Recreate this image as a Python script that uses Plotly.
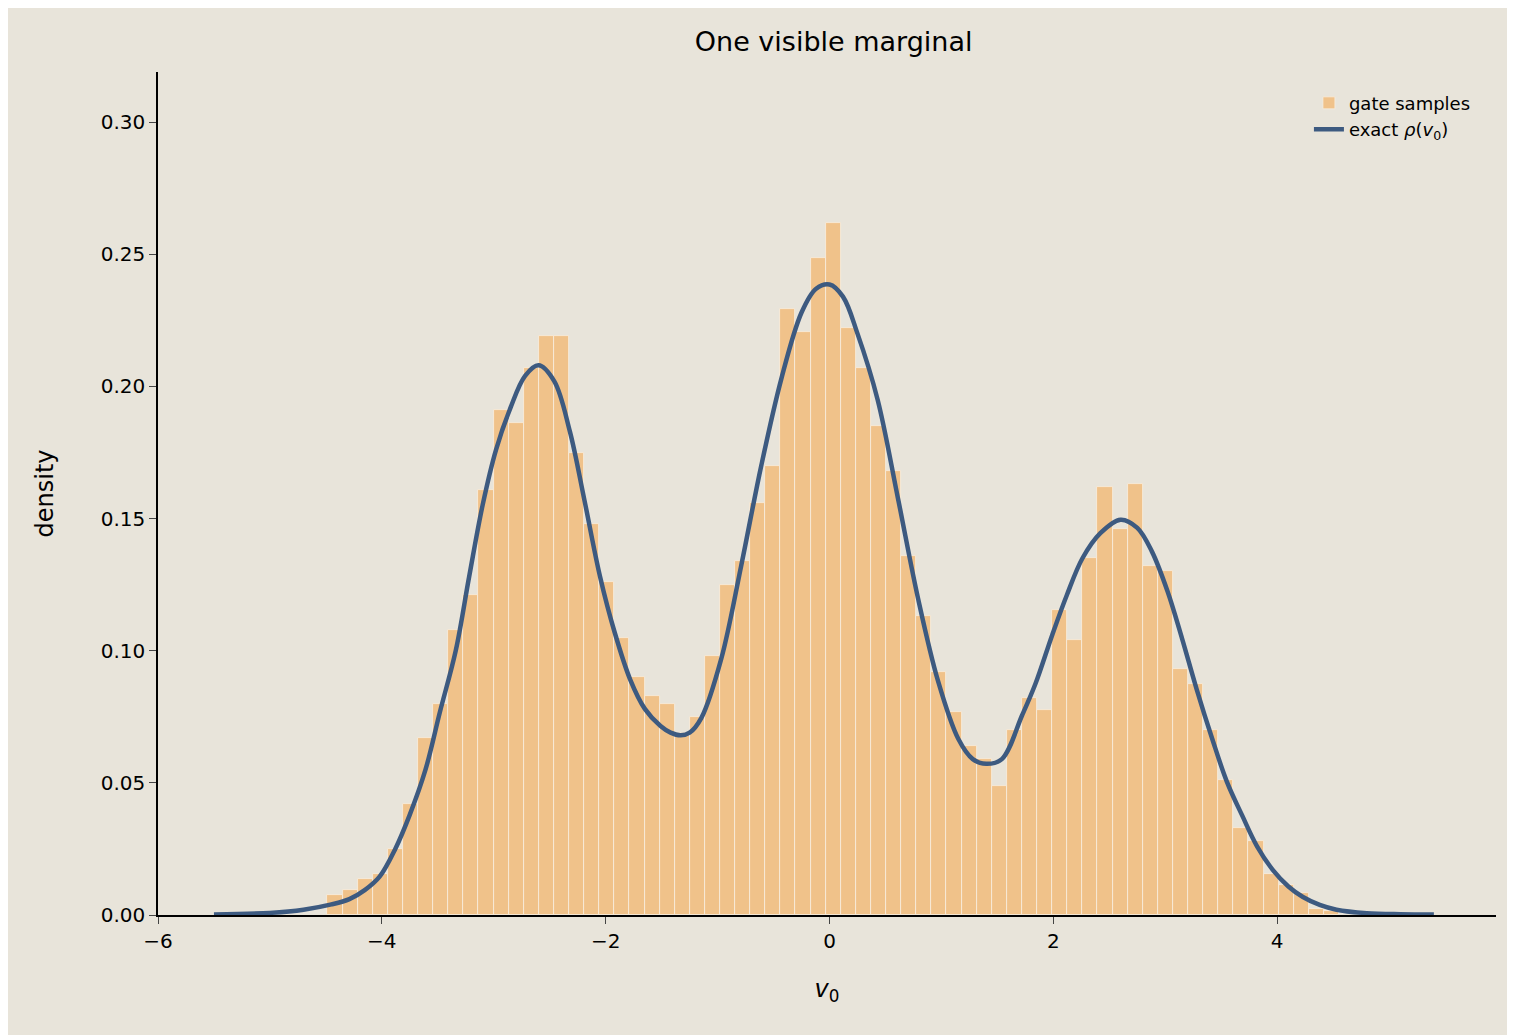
import numpy as np
import plotly.graph_objects as go

bin_start = -4.486
bin_width = 0.1349
counts = [0.0075, 0.0093, 0.0137, 0.0157, 0.025, 0.042, 0.067, 0.080, 0.108, 0.121,
          0.161, 0.191, 0.186, 0.207, 0.219, 0.219, 0.175, 0.148, 0.126, 0.105,
          0.090, 0.083, 0.080, 0.069, 0.075, 0.098, 0.125, 0.134, 0.156, 0.170,
          0.2295, 0.2205, 0.2486, 0.2617, 0.222, 0.207, 0.185, 0.168, 0.136, 0.113,
          0.092, 0.077, 0.064, 0.059, 0.049, 0.070, 0.082, 0.0775, 0.1155, 0.104,
          0.135, 0.162, 0.146, 0.163, 0.132, 0.130, 0.093, 0.0875, 0.070, 0.051,
          0.033, 0.028, 0.0156, 0.0114, 0.0082, 0.0023, 0.0015]

curve_x = [-5.5, -5.0, -4.7, -4.45, -4.29, -4.15, -4.02, -3.88, -3.75, -3.61, -3.48, -3.34, -3.22,
           -3.1, -2.98, -2.85, -2.72, -2.6, -2.46, -2.32, -2.19, -2.05, -1.92, -1.78, -1.65,
           -1.51, -1.42, -1.33, -1.25, -1.146, -0.967, -0.79, -0.61, -0.43, -0.25, -0.12, 0.0,
           0.12, 0.25, 0.43, 0.61, 0.79, 0.97, 1.15, 1.28, 1.40, 1.54, 1.72, 1.84, 1.99, 2.12,
           2.26, 2.42, 2.60, 2.75, 2.88, 3.02, 3.15, 3.28, 3.42, 3.55, 3.69, 3.82, 3.96, 4.1,
           4.23, 4.38, 4.53, 4.8, 5.1, 5.4]
curve_y = [0.0002, 0.0008, 0.002, 0.004, 0.006, 0.0095, 0.0145, 0.025, 0.038, 0.055, 0.077, 0.100, 0.128,
           0.155, 0.176, 0.192, 0.204, 0.208, 0.202, 0.183, 0.157, 0.128, 0.107, 0.089, 0.078,
           0.0715, 0.069, 0.068, 0.069, 0.0745, 0.097, 0.132, 0.170, 0.203, 0.228, 0.237, 0.2386,
           0.234, 0.220, 0.195, 0.158, 0.120, 0.0885, 0.0667, 0.059, 0.0572, 0.059, 0.0755, 0.0875, 0.106, 0.121,
           0.135, 0.1445, 0.1496, 0.1465, 0.1376, 0.1225, 0.1046, 0.0855, 0.0666, 0.0505, 0.0374, 0.026, 0.0171, 0.0108,
           0.0068, 0.0038, 0.002, 0.0007, 0.0003, 0.0002]

centers = bin_start + bin_width * (np.arange(len(counts)) + 0.5)

fig = go.Figure()
fig.add_trace(go.Bar(x=centers, y=counts, width=bin_width, name="gate samples",
                     marker=dict(color="#f0c28a", line=dict(color="#f7ede0", width=0.8))))
fig.add_trace(go.Scatter(x=curve_x, y=curve_y, mode="lines", name="exact <i>ρ</i>(<i>v</i><sub>0</sub>)",
                         line=dict(color="#3d5a80", width=4.5, shape="spline", smoothing=1.0)))

bg = "#e8e4da"
fig.update_layout(
    width=1515, height=1035, paper_bgcolor=bg, plot_bgcolor=bg,
    margin=dict(l=150, r=27, t=64, b=128),
    font=dict(family="DejaVu Sans", size=20, color="black"),
    title=dict(text="One visible marginal", x=0.545, xanchor="center", y=0.968, yanchor="middle",
               font=dict(size=27)),
    bargap=0,
    legend=dict(x=0.985, y=0.985, xanchor="right", yanchor="top", bgcolor="rgba(0,0,0,0)",
                font=dict(size=18)),
    xaxis=dict(range=[-6, 5.955], tickvals=[-6, -4, -2, 0, 2, 4],
               ticktext=["−6", "−4", "−2", "0", "2", "4"], showgrid=False, zeroline=False,
               showline=True, linecolor="black", linewidth=1.5, ticks="outside", ticklen=7,
               title=dict(text="<i>v</i><sub>0</sub>", standoff=28)),
    yaxis=dict(range=[0, 0.319], tickvals=[0, 0.05, 0.1, 0.15, 0.2, 0.25, 0.3], tickformat=".2f",
               showgrid=False, zeroline=False, showline=True, linecolor="black", linewidth=1.5,
               ticks="outside", ticklen=7, title=dict(text="density", standoff=40)),
)
fig.write_html("out.html")
